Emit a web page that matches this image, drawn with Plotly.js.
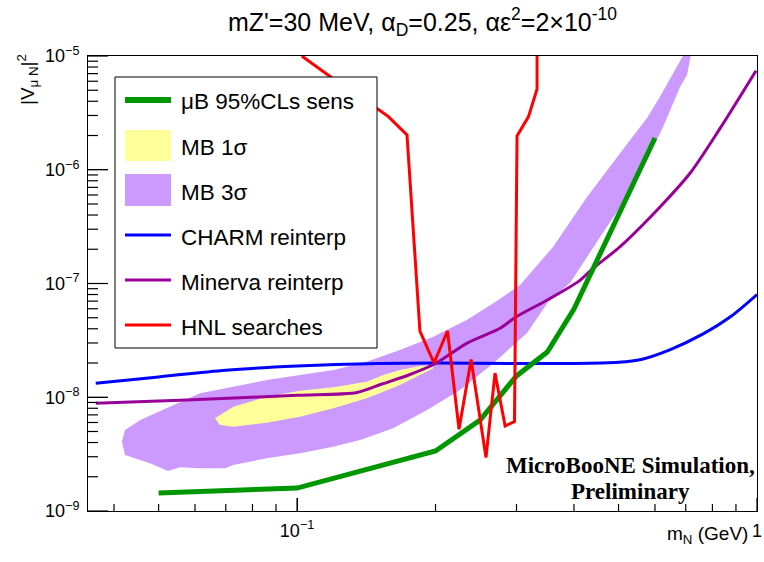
<!DOCTYPE html>
<html>
<head>
<meta charset="utf-8">
<script src="https://cdn.plot.ly/plotly-3.0.1.min.js"></script>
<style>
html,body{margin:0;padding:0;background:#fff;}
#chart{width:764px;height:562px;}
</style>
</head>
<body>
<div id="chart"></div>
<script>
// ---- data (m_N in GeV, |V_muN|^2) ----
var sensX = [0.05, 0.1, 0.2, 0.25, 0.3, 0.35, 0.4, 0.6];
var sensY = [1.44e-9, 1.59e-9, 3.37e-9, 6.3e-9, 1.54e-8, 2.5e-8, 5.97e-8, 1.9e-6];

var charmX = [0.0365, 0.05, 0.07, 0.1, 0.15, 0.2, 0.3, 0.4, 0.5, 0.56, 0.65, 0.76, 0.88, 1.0];
var charmY = [1.33e-8, 1.51e-8, 1.73e-8, 1.88e-8, 1.98e-8, 2.0e-8, 1.98e-8, 1.98e-8, 2.03e-8, 2.15e-8, 2.64e-8, 3.57e-8, 5.18e-8, 8.0e-8];

var minervaX = [0.0365, 0.0576, 0.1, 0.135, 0.153, 0.176, 0.2, 0.2338, 0.2762, 0.298, 0.35, 0.41, 0.44, 0.504, 0.616, 0.715, 0.831, 0.995];
var minervaY = [8.85e-9, 9.46e-9, 1.04e-8, 1.10e-8, 1.307e-8, 1.585e-8, 1.98e-8, 2.98e-8, 4.04e-8, 5.03e-8, 7.16e-8, 1.05e-7, 1.36e-7, 2.11e-7, 4.73e-7, 9.31e-7, 2.31e-6, 7.43e-6];

var hnlX = [0.1024, 0.118, 0.1323, 0.149, 0.158, 0.1734, 0.185, 0.1985, 0.2124, 0.225, 0.239, 0.2575, 0.2694, 0.2834, 0.297, 0.3008, 0.3186, 0.3325, 0.3325];
var hnlY = [1e-5, 6.58e-6, 4.73e-6, 3.47e-6, 2.93e-6, 2.02e-6, 3.82e-8, 2.0e-8, 3.82e-8, 5.22e-9, 2.15e-8, 2.95e-9, 1.63e-8, 5.59e-9, 6.12e-9, 1.98e-6, 2.93e-6, 5.13e-6, 1e-5];

var mb3X = [0.0416, 0.04227, 0.0456, 0.0521, 0.0615, 0.0726, 0.0859, 0.1015, 0.12, 0.1417, 0.1674, 0.1978, 0.2338, 0.2672, 0.3054, 0.3601, 0.427, 0.5038, 0.5766, 0.6152, 0.6469, 0.6939, 0.7186, 0.7045, 0.6803, 0.6569, 0.6248, 0.5766, 0.5216, 0.4558, 0.3922, 0.3526, 0.3162, 0.2672, 0.2261, 0.1917, 0.1617, 0.1371, 0.1198, 0.1015, 0.0859, 0.0726, 0.0698, 0.0615, 0.0557, 0.0524, 0.0479, 0.04227];
var mb3Y = [4.07e-9, 5.15e-9, 6.31e-9, 7.99e-9, 1.083e-8, 1.238e-8, 1.417e-8, 1.569e-8, 1.737e-8, 2.053e-8, 2.6e-8, 3.41e-8, 4.78e-8, 6.7e-8, 9.7e-8, 2.09e-7, 5.76e-7, 1.395e-6, 2.85e-6, 4.39e-6, 6.37e-6, 1.04e-5, 1.04e-5, 6.81e-6, 5.34e-6, 3.86e-6, 2.38e-6, 1.218e-6, 5.76e-7, 2.56e-7, 1.01e-7, 7.02e-8, 3.67e-8, 1.99e-8, 1.158e-8, 7.72e-9, 5.33e-9, 4.21e-9, 3.67e-9, 3.22e-9, 2.905e-9, 2.54e-9, 2.37e-9, 2.37e-9, 2.42e-9, 2.245e-9, 2.63e-9, 3.11e-9];

var mb1X = [0.0663, 0.0727, 0.0859, 0.1015, 0.12, 0.1417, 0.154, 0.1674, 0.1851, 0.1978, 0.1978, 0.1851, 0.1674, 0.154, 0.1417, 0.12, 0.1015, 0.0859, 0.0727, 0.068];
var mb1Y = [6.53e-9, 8.26e-9, 1.011e-8, 1.142e-8, 1.224e-8, 1.37e-8, 1.569e-8, 1.737e-8, 1.882e-8, 1.92e-8, 1.797e-8, 1.569e-8, 1.28e-8, 1.119e-8, 9.79e-9, 7.99e-9, 6.75e-9, 5.97e-9, 5.51e-9, 5.7e-9];

var legendLabels = ["\u03bcB 95%CLs sens", "MB 1\u03c3", "MB 3\u03c3", "CHARM reinterp", "Minerva reinterp", "HNL searches"];

var xMajorTicks = [0.1, 1];
var xMajorText = ["10<sup>\u22121</sup>", "1"];
var yMajorTicks = [1e-9, 1e-8, 1e-7, 1e-6, 1e-5];
var yMajorText = ["10<sup>\u22129</sup>", "10<sup>\u22128</sup>", "10<sup>\u22127</sup>", "10<sup>\u22126</sup>", "10<sup>\u22125</sup>"];

// ---- colours ----
var cGreen = "#009600", cYellow = "#ffff99", cLav = "#cc99ff", cBlue = "#0000ff", cMag = "#990099", cRed = "#ff0000";

// ---- geometry helpers (pixel -> paper) ----
var L = 88, R = 757, T = 56, B = 511;
var W = R - L, H = B - T;
function px(x){ return (x - L) / W; }
function py(y){ return (B - y) / H; }
var xr = [-1.4545, 0], yr = [-9, -5];

// ROOT-style inside tick marks built from the axis tick values (major long, minor short)
var tickX = [], tickY = [];
var xEdge = Math.pow(10, xr[0]), yEdge = Math.pow(10, yr[0]);
function yTick(v, len){
  if (v < Math.pow(10, yr[0]) || v > Math.pow(10, yr[1])) return;
  tickX.push(xEdge, Math.pow(10, xr[0] + len * (xr[1] - xr[0]) / W), null);
  tickY.push(v, v, null);
}
function xTick(v, len){
  if (v < Math.pow(10, xr[0]) || v > Math.pow(10, xr[1])) return;
  tickX.push(v, v, null);
  tickY.push(yEdge, Math.pow(10, yr[0] + len * (yr[1] - yr[0]) / H), null);
}
for (var e = -9; e <= -5; e++) {
  yTick(Math.pow(10, e), 20);
  if (e < -5) for (var d = 2; d <= 9; d++) yTick(d * Math.pow(10, e), 10);
}
for (var e2 = -2; e2 <= 0; e2++) {
  xTick(Math.pow(10, e2), 13);
  if (e2 < 0) for (var d2 = 2; d2 <= 9; d2++) xTick(d2 * Math.pow(10, e2), 7);
}

var traces = [
  {x: mb3X, y: mb3Y, type: "scatter", mode: "lines", fill: "toself", fillcolor: cLav, line: {width: 0, color: cLav}, hoverinfo: "skip"},
  {x: mb1X, y: mb1Y, type: "scatter", mode: "lines", fill: "toself", fillcolor: cYellow, line: {width: 0, color: cYellow}, hoverinfo: "skip"},
  {x: charmX, y: charmY, type: "scatter", mode: "lines", line: {color: cBlue, width: 3, shape: "spline", smoothing: 0.8}},
  {x: minervaX, y: minervaY, type: "scatter", mode: "lines", line: {color: cMag, width: 3, shape: "spline", smoothing: 0.8}},
  {x: sensX, y: sensY, type: "scatter", mode: "lines", line: {color: cGreen, width: 5}},
  {x: hnlX, y: hnlY, type: "scatter", mode: "lines", line: {color: cRed, width: 3}},
  {x: tickX, y: tickY, type: "scatter", mode: "lines", connectgaps: false, line: {color: "#000", width: 1.2}, hoverinfo: "skip"}
];

var rows = [100, 145.5, 190, 235, 280, 325];
var shapes = [
  {type: "rect", xref: "paper", yref: "paper", x0: px(115), x1: px(377), y0: py(348), y1: py(77), fillcolor: "#ffffff", line: {color: "#000", width: 1}, layer: "above"},
  {type: "line", xref: "paper", yref: "paper", x0: px(125), x1: px(171), y0: py(rows[0]), y1: py(rows[0]), line: {color: cGreen, width: 6}},
  {type: "rect", xref: "paper", yref: "paper", x0: px(125), x1: px(171), y0: py(161), y1: py(130), fillcolor: cYellow, line: {width: 0}},
  {type: "rect", xref: "paper", yref: "paper", x0: px(125), x1: px(171), y0: py(206), y1: py(174), fillcolor: cLav, line: {width: 0}},
  {type: "line", xref: "paper", yref: "paper", x0: px(125), x1: px(171), y0: py(rows[3]), y1: py(rows[3]), line: {color: cBlue, width: 3}},
  {type: "line", xref: "paper", yref: "paper", x0: px(125), x1: px(171), y0: py(rows[4]), y1: py(rows[4]), line: {color: cMag, width: 3}},
  {type: "line", xref: "paper", yref: "paper", x0: px(125), x1: px(171), y0: py(rows[5]), y1: py(rows[5]), line: {color: cRed, width: 3}}
];

var font = "Liberation Sans, Arial, Helvetica, sans-serif";
var serif = "Liberation Serif, Times New Roman, serif";
var annotations = [];
for (var i = 0; i < legendLabels.length; i++) {
  annotations.push({xref: "paper", yref: "paper", x: px(179), y: py(rows[i] + 2), xanchor: "left", yanchor: "middle", text: legendLabels[i], showarrow: false, font: {family: font, size: 22.5, color: "#000"}});
}
annotations.push({xref: "paper", yref: "paper", x: px(630.5), y: py(465), xanchor: "center", yanchor: "middle", text: "<b>MicroBooNE Simulation,</b>", showarrow: false, font: {family: serif, size: 23, color: "#000"}});
annotations.push({xref: "paper", yref: "paper", x: px(630.5), y: py(491), xanchor: "center", yanchor: "middle", text: "<b>Preliminary</b>", showarrow: false, font: {family: serif, size: 23, color: "#000"}});
annotations.push({xref: "paper", yref: "paper", x: px(750), y: py(535), xanchor: "right", yanchor: "middle", text: "m<sub>N</sub> (GeV)", showarrow: false, font: {family: font, size: 19, color: "#000"}});
annotations.push({xref: "paper", yref: "paper", x: px(27), y: py(80), xanchor: "center", yanchor: "middle", textangle: -90, text: "|V<sub>\u03bc N</sub>|<sup>2</sup>", showarrow: false, font: {family: font, size: 19, color: "#000"}});

var layout = {
  width: 764, height: 562,
  margin: {l: L, r: 764 - R, t: T, b: 562 - B, pad: 0},
  paper_bgcolor: "#fff", plot_bgcolor: "#fff",
  showlegend: false,
  title: {text: "mZ'=30 MeV, \u03b1<sub>D</sub>=0.25, \u03b1\u03b5<sup>2</sup>=2\u00d710<sup>-10</sup>", font: {family: font, size: 25, color: "#000"}, x: 0.553, xref: "container", xanchor: "center", y: 0.961, yref: "container", yanchor: "middle"},
  xaxis: {
    type: "log", range: xr, autorange: false,
    showgrid: false, zeroline: false,
    showline: true, linecolor: "#000", linewidth: 1, mirror: true,
    ticks: "inside", ticklen: 13, tickwidth: 1, tickcolor: "#000",
    tickmode: "array", tickvals: xMajorTicks, ticktext: xMajorText,
    tickfont: {family: font, size: 18, color: "#000"}, ticklabelstandoff: 3
  },
  yaxis: {
    type: "log", range: yr, autorange: false,
    showgrid: false, zeroline: false,
    showline: true, linecolor: "#000", linewidth: 1, mirror: true,
    ticks: "inside", ticklen: 20, tickwidth: 1, tickcolor: "#000",
    tickmode: "array", tickvals: yMajorTicks, ticktext: yMajorText,
    tickfont: {family: font, size: 18, color: "#000"}, ticklabelstandoff: 4
  },
  shapes: shapes,
  annotations: annotations
};

Plotly.newPlot("chart", traces, layout, {staticPlot: true, displayModeBar: false});
</script>
</body>
</html>
